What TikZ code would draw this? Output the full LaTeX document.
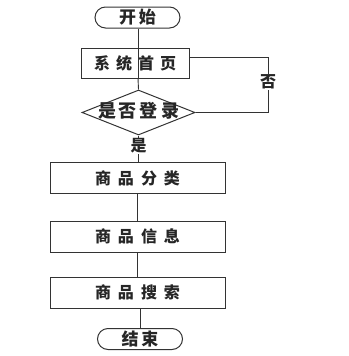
\documentclass[tikz,border=0pt]{standalone}
\usepackage{fontspec}
\newfontfamily\cjk{Noto Sans CJK SC}
\usetikzlibrary{shapes.geometric}
\begin{document}
\begin{tikzpicture}[x=1pt,y=-1pt,
  line width=0.9pt, draw=black!80,
  every node/.style={font=\cjk\bfseries\fontsize{16}{18}\selectfont, text=black!85},
  boxnode/.style={draw, line width=1pt, minimum width=175pt, minimum height=31pt, inner sep=0pt},
  topbox/.style={draw, line width=1pt, minimum width=108pt, minimum height=30pt, inner sep=0pt},
  term/.style={draw, line width=1pt, rounded corners=10.5pt, minimum width=85pt, minimum height=21pt, inner sep=0pt, font=\cjk\bfseries\fontsize{17}{19}\selectfont},
  decide/.style={draw, line width=1pt, diamond, aspect=2.5, minimum width=113pt, minimum height=45pt, inner sep=0pt},
  lbl/.style={fill=white, inner sep=1pt}
]
\useasboundingbox (0,0) rectangle (348,356);
\node[term] (start) at (137.5,17.5) {开\hspace{3pt}始};
\node[topbox] (home) at (135,63) {系\hspace{6pt}统\hspace{6pt}首\hspace{6pt}页};
\node[decide] (login) at (138.5,112.5) {};
\node[font=\cjk\bfseries\fontsize{18}{20}\selectfont] at (138.5,111) {是\hspace{3pt}否\hspace{3pt}登\hspace{3pt}录};
\node[boxnode] (cat) at (137.5,178) {商\hspace{7pt}品\hspace{7pt}分\hspace{7pt}类};
\node[boxnode] (info) at (137.5,236.5) {商\hspace{7pt}品\hspace{7pt}信\hspace{7pt}息};
\node[boxnode] (search) at (137.5,292.5) {商\hspace{7pt}品\hspace{7pt}搜\hspace{7pt}索};
\node[term] (end) at (140,339) {结\hspace{3pt}束};
\coordinate (c1) at (268,57);
\coordinate (c2) at (268,112.5);
\draw (start.south -| 138,0) -- (home.south -| 138,0);
\draw (138,78) -- (login.north);
\draw (home.east |- c1) -- (c1) -- node[lbl, midway, pos=0.45] (no) {否} (c2) -- (login.east);
\draw (login.south) -- node[lbl, pos=0.4] (yes) {是} (cat.north -| login.south);
\draw (cat.south) -- (info.north);
\draw (info.south) -- (search.north);
\draw (search.south -| end.north) -- (end.north);
\end{tikzpicture}
\end{document}
